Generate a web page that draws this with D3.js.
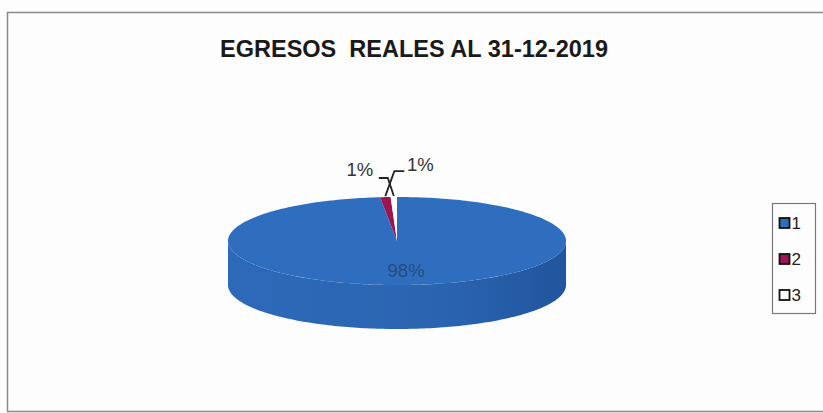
<!DOCTYPE html>
<html lang="es">
<head>
    <meta charset="UTF-8">
    <title>Egresos reales al 31-12-2019</title>
    <style>
        body, html {
            margin: 0;
            padding: 0;
            background-color: #fdfdfd;
        }
        svg {
            display: block;
            font-family: "Liberation Sans", Arial, sans-serif;
        }
    </style>
</head>
<body>
    <div id="chart"></div>

    <script src="https://d3js.org/d3.v7.min.js"></script>
    <script>
        // data (shares of total)
        const categories = ["1", "2", "3"];
        const values = [98.4, 1.0, 0.6];
        const colors = ["#2f6ebe", "#9a1552", "#ffffff"];
        const titleText = "EGRESOS  REALES AL 31-12-2019";

        const width = 823, height = 413;
        const cx = 397, cy = 241;   // pie centre (top face)
        const rx = 169, ry = 44;    // ellipse radii
        const depth = 44;           // thickness of the disc

        const svg = d3.select("#chart")
            .append("svg")
            .attr("width", width)
            .attr("height", height);

        // frame of the chart area
        svg.append("rect")
            .attr("x", 7.5)
            .attr("y", 12.5)
            .attr("width", 840)
            .attr("height", 399)
            .attr("fill", "#fdfdfd")
            .attr("stroke", "#8a8a8a")
            .attr("stroke-width", 1.5);

        svg.append("text")
            .attr("x", 414)
            .attr("y", 57)
            .attr("text-anchor", "middle")
            .attr("font-size", "23.5px")
            .attr("font-weight", "bold")
            .attr("fill", "#1a1a1a")
            .style("white-space", "pre")
            .text(titleText);

        const pie = d3.pie().sort(null).value(d => d.value);
        const arcs = pie(categories.map((c, i) => ({ name: c, value: values[i], color: colors[i] })));

        // point on the ellipse, angle measured clockwise from 12 o'clock
        const pt = (a, k = 1, dy = 0) => [cx + k * rx * Math.sin(a), cy - k * ry * Math.cos(a) + dy];

        function sample(a0, a1, dy) {
            const n = Math.max(2, Math.ceil(Math.abs(a1 - a0) / 0.02));
            return d3.range(n + 1).map(i => pt(a0 + (a1 - a0) * i / n, 1, dy));
        }

        const line = d3.line();

        // side wall gradient: lighter on the left, darker on the right
        const defs = svg.append("defs");
        const grad = defs.append("linearGradient")
            .attr("id", "side")
            .attr("x1", "0%").attr("x2", "100%");
        grad.append("stop").attr("offset", "0%").attr("stop-color", "#2d69b8");
        grad.append("stop").attr("offset", "60%").attr("stop-color", "#2b65b2");
        grad.append("stop").attr("offset", "100%").attr("stop-color", "#21559d");

        // outer walls (front half only)
        const sides = svg.append("g");
        arcs.forEach(d => {
            const s = Math.max(d.startAngle, Math.PI / 2);
            const e = Math.min(d.endAngle, 3 * Math.PI / 2);
            if (e <= s) return;
            const top = sample(s, e, 0);
            const bottom = sample(e, s, depth);
            sides.append("path")
                .attr("d", line(top.concat(bottom)) + "Z")
                .attr("fill", d.index === 0 ? "url(#side)" : d3.color(d.data.color).darker(0.5));
        });

        // top faces
        const tops = svg.append("g");
        arcs.forEach(d => {
            const pts = [[cx, cy]].concat(sample(d.startAngle, d.endAngle, 0));
            tops.append("path")
                .attr("d", line(pts) + "Z")
                .attr("fill", d.data.color);
        });

        // percentage labels
        const fmt = d3.format(".0%");
        const total = d3.sum(values);

        const mid0 = (arcs[0].startAngle + arcs[0].endAngle) / 2;
        const c0 = pt(mid0, 0.6);
        svg.append("text")
            .attr("x", c0[0] + 4)
            .attr("y", c0[1] + 3)
            .attr("dy", "0.35em")
            .attr("text-anchor", "middle")
            .attr("font-size", "18.5px")
            .attr("fill", "#264c7e")
            .text(fmt(values[0] / total));

        // small slices: leader lines cross over, label for slice 2 right, slice 3 left
        const small = [
            { i: 1, knee: [9, -25], end: [19, -25], lx: 35, ly: -32 },
            { i: 2, knee: [-6, -18], end: [-15, -18], lx: -34, ly: -26 }
        ];
        small.forEach(o => {
            const d = arcs[o.i];
            const m = (d.startAngle + d.endAngle) / 2;
            const p = pt(m, 1, -1);
            svg.append("path")
                .attr("d", line([p, [p[0] + o.knee[0], p[1] + o.knee[1]], [p[0] + o.end[0], p[1] + o.end[1]]]))
                .attr("fill", "none")
                .attr("stroke", "#222")
                .attr("stroke-width", 1.8);
            svg.append("text")
                .attr("x", p[0] + o.lx)
                .attr("y", p[1] + o.ly)
                .attr("dy", "0.35em")
                .attr("text-anchor", "middle")
                .attr("font-size", "18.5px")
                .attr("fill", "#333")
                .text(fmt(values[o.i] / total));
        });

        // legend
        const legend = svg.append("g");
        legend.append("rect")
            .attr("x", 772.5).attr("y", 203.5)
            .attr("width", 43).attr("height", 110)
            .attr("fill", "#fdfdfd")
            .attr("stroke", "#777")
            .attr("stroke-width", 1.2);

        const ly = d3.scalePoint().domain(categories).range([223, 295]);
        const item = legend.selectAll("g.item")
            .data(arcs)
            .join("g")
            .attr("class", "item")
            .attr("transform", d => `translate(779,${ly(d.data.name)})`);
        item.append("rect")
            .attr("x", 0.5).attr("y", -5)
            .attr("width", 10).attr("height", 10)
            .attr("fill", d => d.data.color)
            .attr("stroke", "#111")
            .attr("stroke-width", 1.8);
        item.append("text")
            .attr("x", 12.5)
            .attr("dy", "0.36em")
            .attr("font-size", "17px")
            .attr("fill", "#222")
            .text(d => d.data.name);
    </script>
</body>
</html>
